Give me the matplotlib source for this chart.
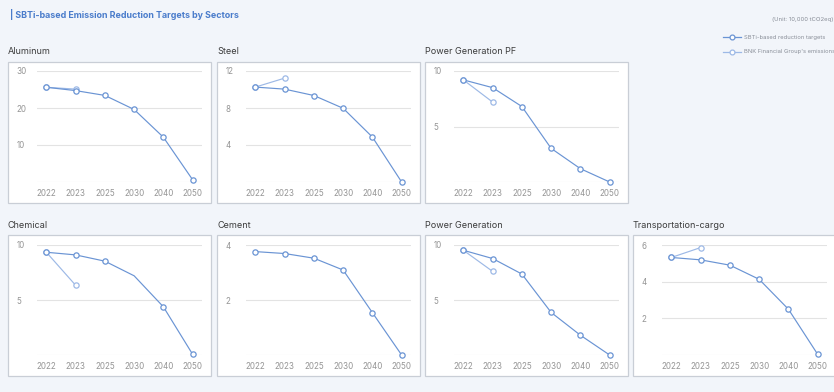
import numpy as np
import matplotlib.pyplot as plt
from matplotlib.patches import Rectangle

plt.rcParams['font.family'] = ['Inter', 'DejaVu Sans']

years = ['2022', '2023', '2025', '2030', '2040', '2050']

sectors = ['Aluminum', 'Steel', 'Power Generation PF',
           'Chemical', 'Cement', 'Power Generation', 'Transportation-cargo']

aluminum_sbti = [25.6, 24.7, 23.4, 19.6, 12.1, 0.6]
aluminum_bnk = [25.6, 25.1]
steel_sbti = [10.26, 10.04, 9.35, 7.97, 4.86, 0.0]
steel_bnk = [10.26, 11.23]
pf_sbti = [9.2, 8.5, 6.8, 3.03, 1.2, 0.0]
pf_bnk = [9.2, 7.2]
chemical_sbti = [9.34, 9.1, 8.53, 7.2, 4.38, 0.06]
chemical_bnk = [9.34, 6.34]
cement_sbti = [3.76, 3.69, 3.52, 3.09, 1.54, 0.0]
cement_bnk = []
power_sbti = [9.52, 8.77, 7.36, 3.87, 1.8, 0.0]
power_bnk = [9.52, 7.6]
transport_sbti = [5.32, 5.19, 4.9, 4.13, 2.5, 0.04]
transport_bnk = [5.32, 5.86]

sbti_all = [aluminum_sbti, steel_sbti, pf_sbti, chemical_sbti,
            cement_sbti, power_sbti, transport_sbti]
bnk_all = [aluminum_bnk, steel_bnk, pf_bnk, chemical_bnk,
           cement_bnk, power_bnk, transport_bnk]
yticks_all = [[0, 10, 20, 30], [0, 4, 8, 12], [0, 5, 10],
              [0, 5, 10], [0, 2, 4], [0, 5, 10], [0, 2, 4, 6]]

W, H = 834, 392
BG = '#f2f5fa'
C_SBTI = '#6a94d4'
C_BNK = '#9db9e6'

fig = plt.figure(figsize=(W / 100, H / 100), dpi=100, facecolor=BG)


def fx(px):
    return px / W


def fy(py):
    return 1 - py / H


fig.text(fx(10), fy(15), '| SBTi-based Emission Reduction Targets by Sectors',
         color='#4a7ccb', fontsize=6.4, fontweight='bold', va='center')
fig.text(fx(833), fy(20), '(Unit: 10,000 tCO2eq)', color='#8a8f99',
         fontsize=4.3, ha='right', va='center')

# legend drawn by hand
for ly, lab, col in [(37, 'SBTi-based reduction targets', C_SBTI),
                     (52, "BNK Financial Group's emissions", C_BNK)]:
    fig.add_artist(plt.Line2D([fx(723), fx(741)], [fy(ly), fy(ly)], color=col,
                              lw=0.9, transform=fig.transFigure))
    fig.add_artist(plt.Line2D([fx(732)], [fy(ly)], color=col, lw=0,
                              marker='o', ms=3.5, mfc='white', mew=0.9,
                              transform=fig.transFigure))
    fig.text(fx(744), fy(ly), lab, color='#8a8f99', fontsize=4.2, va='center')

col_left = [8, 217, 425, 633]
row_top = [62, 235]
pw, ph = 203, 141
slots = [(0, 0), (0, 1), (0, 2), (1, 0), (1, 1), (1, 2), (1, 3)]

x = np.arange(len(years))

for i, (r, c) in enumerate(slots):
    left = col_left[c]
    top = row_top[r]
    fig.add_artist(Rectangle((fx(left), fy(top + ph)), pw / W, ph / H,
                             transform=fig.transFigure, facecolor='white',
                             edgecolor='#c9ced6', lw=0.9, zorder=-1))
    fig.text(fx(left), fy(top - 10), sectors[i], fontsize=6.5,
             color='#3c3c3c', va='center')

    ax_top = top + 9 if r == 0 else top + 10
    ax_bot = top + 120
    ax = fig.add_axes([fx(left + 29), fy(ax_bot), (pw - 38) / W,
                       (ax_bot - ax_top) / H])
    ax.set_zorder(2)
    ax.set_facecolor('none')
    for s in ax.spines.values():
        s.set_visible(False)

    yt = yticks_all[i]
    ax.set_ylim(yt[0], yt[-1])
    ax.set_yticks(yt)
    ax.set_yticklabels([''] + [str(v) for v in yt[1:]])
    ax.set_xlim(-0.32, 5.32)
    ax.set_xticks(x)
    ax.set_xticklabels(years)
    ax.grid(axis='y', color='#e3e3e3', lw=0.8)
    ax.tick_params(length=0, labelsize=5.8, labelcolor='#959595')
    ax.tick_params(axis='y', pad=14.5)
    ax.tick_params(axis='x', pad=5)
    for lbl in ax.get_yticklabels():
        lbl.set_horizontalalignment('left')

    sb = sbti_all[i]
    mk = [0, 1, 2, 4, 5] if sectors[i] == 'Chemical' else None
    ax.plot(x[:len(sb)], sb, color=C_SBTI, lw=0.85, marker='o', ms=3.8,
            mfc='white', mew=0.9, markevery=mk, clip_on=False, zorder=3)
    bk = bnk_all[i]
    if bk:
        ax.plot(x[:len(bk)], bk, color=C_BNK, lw=0.85, marker='o', ms=3.8,
                mfc='white', mew=0.9, clip_on=False, zorder=2)

fig.savefig('out.png', dpi=100, facecolor=BG)
